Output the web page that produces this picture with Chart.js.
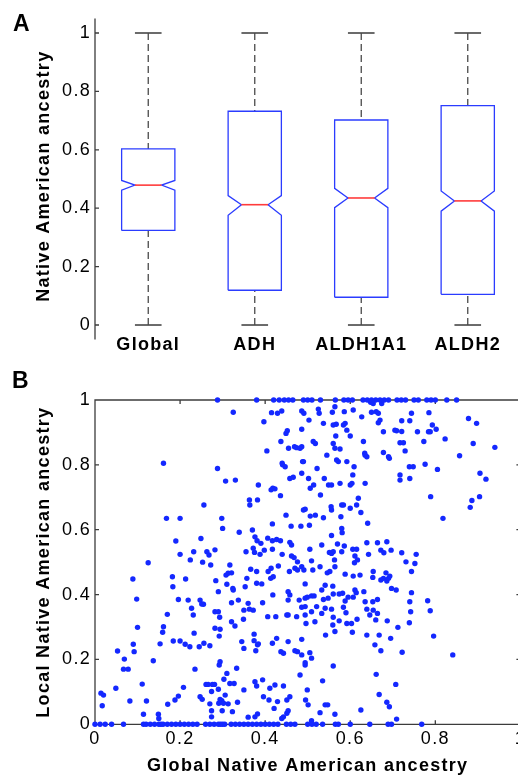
<!DOCTYPE html>
<html>
<head>
<meta charset="utf-8">
<script src="https://cdn.jsdelivr.net/npm/chart.js@4.4.1/dist/chart.umd.min.js"></script>
<style>
  html, body { margin: 0; padding: 0; background: #fff; width: 518px; height: 781px; overflow: hidden; }
  .wrap { position: absolute; left: 0; width: 540px; }
  #wrapA { top: 0; height: 370px; }
  #wrapB { top: 370px; height: 411px; }
  .panel { position: absolute; font: bold 23px "Liberation Sans", Arial, sans-serif; line-height: 23px; color: #000; }
</style>
</head>
<body>
<div id="wrapA" class="wrap"><canvas id="boxChart" width="540" height="370"></canvas></div>
<div id="wrapB" class="wrap"><canvas id="scatterChart" width="540" height="411"></canvas></div>
<div class="panel" style="left:13px;top:12px">A</div>
<div class="panel" style="left:12px;top:369px">B</div>
<script>
// ---------------------------------------------------------------------
// Data — panel A (notched box plots)
// ---------------------------------------------------------------------
const groups = ["Global", "ADH", "ALDH1A1", "ALDH2"];
const q1 = [0.324, 0.119, 0.095, 0.105];
const median = [0.479, 0.412, 0.435, 0.425];
const q3 = [0.603, 0.732, 0.702, 0.751];
const notchLo = [0.462, 0.376, 0.402, 0.390];
const notchHi = [0.495, 0.443, 0.468, 0.459];
const whiskerLo = [0, 0, 0, 0];
const whiskerHi = [1, 1, 1, 1];
const yTicksA = [0, 0.2, 0.4, 0.6, 0.8, 1];

// ---------------------------------------------------------------------
// Data — panel B (global vs local ancestry)
// ---------------------------------------------------------------------
const axisTicksB = [0, 0.2, 0.4, 0.6, 0.8, 1];
// individuals sitting on local ancestry = 1
const topRowX = [0.288, 0.38, 0.42, 0.433, 0.445, 0.455, 0.465, 0.49, 0.5, 0.51, 0.53, 0.565, 0.585,
  0.595, 0.605, 0.63, 0.64, 0.65, 0.66, 0.67, 0.68, 0.69, 0.71, 0.72, 0.73, 0.75, 0.76, 0.78, 0.79,
  0.8, 0.827, 0.85];
// individuals sitting on local ancestry = 0
const bottomRowX = [0, 0.012, 0.024, 0.039, 0.067, 0.114, 0.12, 0.13, 0.14, 0.15, 0.155, 0.16, 0.17,
  0.18, 0.19, 0.2, 0.21, 0.22, 0.23, 0.24, 0.26, 0.27, 0.28, 0.29, 0.295, 0.3, 0.305, 0.32, 0.33,
  0.34, 0.35, 0.36, 0.37, 0.38, 0.39, 0.4, 0.41, 0.42, 0.43, 0.45, 0.46, 0.47, 0.5, 0.51, 0.52,
  0.535, 0.565, 0.572, 0.6, 0.646, 0.689, 0.697, 0.768];
// [global, local] for everyone in between
const upperPts = [
  [0.325,0.962],[0.397,0.933],[0.415,0.961],[0.429,0.959],[0.439,0.966],[0.449,0.897],[0.452,0.905],[0.437,0.872],
  [0.404,0.843],[0.44,0.805],[0.441,0.8],[0.447,0.794],[0.455,0.851],[0.469,0.856],[0.474,0.853],[0.482,0.851],
  [0.486,0.856],[0.486,0.966],[0.491,0.959],[0.486,0.91],[0.503,0.938],[0.513,0.872],[0.518,0.866],[0.525,0.972],
  [0.527,0.959],[0.537,0.928],[0.545,0.83],[0.558,0.962],[0.564,0.979],[0.56,0.923],[0.567,0.925],[0.56,0.866],
  [0.564,0.851],[0.566,0.889],[0.568,0.815],[0.572,0.81],[0.576,0.849],[0.584,0.923],[0.588,0.928],[0.592,0.907],
  [0.586,0.964],[0.6,0.889],[0.592,0.81],[0.607,0.969],[0.609,0.794],[0.627,0.948],[0.631,0.872],[0.634,0.836],
  [0.635,0.83],[0.639,0.825],[0.648,0.993],[0.65,0.962],[0.661,0.964],[0.666,0.959],[0.666,0.93],[0.67,0.938],
  [0.654,0.989],[0.674,0.989],[0.678,0.902],[0.678,0.838],[0.69,0.825],[0.692,0.82],[0.705,0.907],[0.709,0.905],
  [0.717,0.868],[0.725,0.868],[0.721,0.936],[0.721,0.903],[0.729,0.843],[0.717,0.769],[0.717,0.753],[0.739,0.794],
  [0.748,0.794],[0.74,0.936],[0.744,0.959],[0.74,0.758],[0.758,0.902],[0.773,0.872],[0.784,0.902],[0.788,0.902],
  [0.793,0.923],[0.802,0.91],[0.776,0.802],[0.785,0.961],[0.805,0.786],[0.823,0.88],[0.857,0.828],[0.878,0.943],
  [0.897,0.928],[0.889,0.866],[0.94,0.854],[0.905,0.774],[0.919,0.756],[0.882,0.669],[0.886,0.69],[0.904,0.702],
  [0.789,0.702],[0.818,0.635],[0.161,0.805],[0.288,0.789],[0.307,0.75],[0.33,0.753],[0.384,0.738],[0.363,0.692],
  [0.364,0.676],[0.382,0.692],[0.414,0.723],[0.418,0.728],[0.423,0.726],[0.436,0.705],[0.458,0.758],[0.466,0.762],
  [0.486,0.774],[0.488,0.81],[0.49,0.81],[0.502,0.758],[0.506,0.728],[0.514,0.738],[0.522,0.789],[0.53,0.707],
  [0.539,0.758],[0.549,0.738],[0.556,0.738],[0.576,0.743],[0.6,0.738],[0.604,0.743],[0.606,0.769],[0.635,0.743],
  [0.256,0.676],[0.168,0.635],[0.2,0.635],[0.298,0.635],[0.449,0.645],[0.49,0.661],[0.494,0.663],[0.506,0.642],
  [0.518,0.645],[0.537,0.637],[0.555,0.671],[0.556,0.661],[0.58,0.676],[0.584,0.676],[0.578,0.64],[0.6,0.666],
  [0.615,0.676],[0.625,0.653],[0.619,0.697]
];
const middlePts = [
  [0.249,0.573],[0.19,0.565],[0.125,0.498],[0.089,0.448],[0.098,0.386],[0.182,0.455],[0.183,0.424],[0.17,0.339],
  [0.2,0.524],[0.213,0.448],[0.196,0.385],[0.219,0.383],[0.224,0.507],[0.232,0.532],[0.263,0.532],[0.268,0.522],
  [0.227,0.358],[0.231,0.337],[0.247,0.383],[0.251,0.371],[0.255,0.37],[0.253,0.5],[0.272,0.491],[0.282,0.538],
  [0.284,0.443],[0.29,0.409],[0.782,0.381],[0.788,0.35],[0.796,0.272],[0.841,0.214],
  [0.300,0.604],[0.339,0.592],[0.417,0.618],[0.461,0.611],[0.484,0.611],[0.504,0.614],[0.370,0.599],[0.376,0.578],
  [0.381,0.566],[0.390,0.558],[0.406,0.574],[0.417,0.566],[0.427,0.570],[0.436,0.566],[0.458,0.561],[0.462,0.553],
  [0.355,0.532],[0.372,0.543],[0.375,0.530],[0.388,0.524],[0.398,0.537],[0.417,0.540],[0.440,0.524],[0.462,0.519],
  [0.468,0.514],[0.505,0.540],[0.476,0.501],[0.509,0.504],[0.317,0.491],[0.308,0.460],[0.313,0.466],[0.321,0.467],
  [0.366,0.478],[0.380,0.471],[0.407,0.471],[0.414,0.481],[0.431,0.488],[0.457,0.471],[0.470,0.481],[0.476,0.476],
  [0.486,0.486],[0.491,0.476],[0.512,0.476],[0.357,0.450],[0.353,0.424],[0.380,0.435],[0.392,0.433],[0.310,0.432],
  [0.324,0.419],[0.325,0.414],[0.413,0.450],[0.419,0.455],[0.418,0.399],[0.454,0.409],[0.458,0.399],[0.454,0.383],
  [0.494,0.433],[0.494,0.389],[0.499,0.392],[0.509,0.396],[0.515,0.396],[0.480,0.383],[0.486,0.361],[0.494,0.363],
  [0.321,0.375],[0.337,0.383],[0.350,0.352],[0.363,0.355],[0.372,0.352],[0.360,0.373],[0.394,0.375],[0.406,0.332],
  [0.425,0.332],[0.451,0.337],[0.454,0.337],[0.474,0.332],[0.494,0.337],[0.509,0.347],[0.521,0.363],
  [0.641,0.620],[0.556,0.582],[0.580,0.604],[0.581,0.591],[0.533,0.553],[0.570,0.556],[0.586,0.550],[0.551,0.530],
  [0.556,0.527],[0.560,0.532],[0.580,0.532],[0.606,0.540],[0.615,0.540],[0.611,0.519],[0.617,0.507],[0.610,0.498],
  [0.639,0.560],[0.664,0.560],[0.686,0.563],[0.672,0.537],[0.679,0.529],[0.696,0.537],[0.643,0.524],[0.721,0.529],
  [0.731,0.501],[0.755,0.524],[0.752,0.496],[0.529,0.486],[0.563,0.507],[0.564,0.486],[0.546,0.467],[0.552,0.471],
  [0.588,0.463],[0.607,0.457],[0.623,0.460],[0.654,0.471],[0.653,0.453],[0.684,0.467],[0.678,0.450],[0.672,0.445],
  [0.686,0.442],[0.690,0.450],[0.693,0.457],[0.744,0.471],[0.697,0.419],[0.708,0.414],[0.744,0.406],[0.740,0.378],
  [0.533,0.414],[0.541,0.429],[0.559,0.426],[0.560,0.402],[0.574,0.402],[0.582,0.404],[0.611,0.414],[0.614,0.406],
  [0.607,0.392],[0.595,0.392],[0.588,0.380],[0.632,0.409],[0.635,0.378],[0.653,0.378],[0.664,0.385],[0.537,0.385],
  [0.548,0.389],[0.541,0.358],[0.533,0.342],[0.556,0.355],[0.560,0.330],[0.584,0.361],[0.590,0.344],[0.639,0.355],
  [0.654,0.352],[0.646,0.337],[0.664,0.342],[0.742,0.347]
];
const lowerPts = [
  [0.053,0.226],[0.069,0.201],[0.067,0.17],[0.078,0.17],[0.09,0.247],[0.092,0.224],[0.1,0.299],[0.137,0.196],
  [0.153,0.248],[0.159,0.284],[0.161,0.301],[0.184,0.257],[0.2,0.257],[0.212,0.247],[0.223,0.239],[0.245,0.239],
  [0.235,0.17],[0.233,0.281],[0.256,0.25],[0.27,0.242],[0.282,0.296],[0.292,0.272],[0.282,0.347],[0.29,0.347],
  [0.293,0.33],[0.049,0.111],[0.111,0.124],[0.208,0.114],[0.261,0.123],[0.266,0.123],[0.276,0.123],[0.281,0.123],
  [0.29,0.108],[0.292,0.183],[0.625,0.044],[0.686,0.068],[0.692,0.054],[0.709,0.016],[0.564,0.031],
  [0.329,0.303],[0.294,0.293],[0.294,0.193],[0.374,0.278],[0.374,0.258],[0.382,0.245],[0.384,0.248],[0.350,0.234],
  [0.345,0.255],[0.378,0.227],[0.417,0.250],[0.427,0.265],[0.437,0.224],[0.443,0.219],[0.454,0.255],[0.470,0.227],
  [0.476,0.224],[0.486,0.262],[0.486,0.214],[0.494,0.183],[0.505,0.221],[0.509,0.204],[0.494,0.190],[0.333,0.173],
  [0.310,0.157],[0.303,0.139],[0.317,0.126],[0.327,0.126],[0.350,0.106],[0.376,0.131],[0.380,0.118],[0.394,0.137],
  [0.411,0.111],[0.423,0.121],[0.396,0.085],[0.443,0.118],[0.458,0.085],[0.482,0.152],[0.499,0.106],[0.496,0.311],
  [0.517,0.316],[0.321,0.316],[0.349,0.324],
  [0.559,0.306],[0.564,0.286],[0.574,0.319],[0.592,0.311],[0.603,0.311],[0.616,0.324],[0.605,0.284],[0.660,0.322],
  [0.687,0.319],[0.712,0.299],[0.739,0.313],[0.542,0.275],[0.639,0.275],[0.668,0.275],[0.695,0.265],[0.658,0.245],
  [0.672,0.227],[0.722,0.222],[0.560,0.180],[0.535,0.134],[0.661,0.154],[0.707,0.123],[0.668,0.092],
  [0.014,0.096],[0.020,0.090],[0.017,0.057],[0.082,0.072],[0.121,0.072],[0.114,0.031],[0.149,0.031],[0.150,0.018],
  [0.171,0.062],[0.188,0.075],[0.196,0.087],[0.247,0.085],[0.252,0.077],[0.274,0.101],[0.270,0.063],[0.274,0.042],
  [0.274,0.023],[0.294,0.077],[0.298,0.073],[0.291,0.065],[0.306,0.090],[0.302,0.065],[0.299,0.042],[0.313,0.063],
  [0.323,0.039],[0.335,0.068],[0.360,0.022],[0.376,0.023],[0.382,0.032],[0.409,0.075],[0.421,0.049],[0.429,0.070],
  [0.451,0.075],[0.451,0.034],[0.439,0.018],[0.443,0.023],[0.454,0.042],[0.495,0.075],[0.501,0.060],[0.541,0.060],
  [0.529,0.036],[0.547,0.060],[0.509,0.011]
];

// ---------------------------------------------------------------------
// Shared look
// ---------------------------------------------------------------------
const FONT = '"Liberation Sans", Arial, Helvetica, sans-serif';
const AXIS_COLOR = "#3c3c3c";
const fmt = (v) => (Math.abs(v) < 1e-9 ? "0" : Math.abs(v - 1) < 1e-9 ? "1" : v.toFixed(1));

// MATLAB-style text is a bit looser than the canvas default
const spacingPlugin = {
  id: "spacing",
  beforeUpdate(chart) { chart.ctx.letterSpacing = "1.3px"; },
  beforeDraw(chart) { chart.ctx.letterSpacing = "1.3px"; },
};

// axis line(s) with inward tick marks, optional full frame
const framePlugin = {
  id: "frame",
  beforeDatasetsDraw(chart, args, opts) {
    const { ctx, chartArea: a, scales: { x, y } } = chart;
    const len = opts.len || 4;
    ctx.save();
    ctx.strokeStyle = opts.color || AXIS_COLOR;
    ctx.lineWidth = opts.width || 1.3;
    ctx.beginPath();
    if (opts.box) {
      ctx.rect(a.left, a.top, a.right - a.left, a.bottom - a.top);
    } else if (opts.leftLine) {
      ctx.moveTo(a.left, y.getPixelForValue(opts.leftLine[0]));
      ctx.lineTo(a.left, y.getPixelForValue(opts.leftLine[1]));
    }
    y.ticks.forEach((t) => {
      const py = y.getPixelForValue(t.value);
      ctx.moveTo(a.left, py);
      ctx.lineTo(a.left + len, py);
      if (opts.box) {
        ctx.moveTo(a.right, py);
        ctx.lineTo(a.right - len, py);
      }
    });
    if (opts.box) {
      x.ticks.forEach((t) => {
        const px = x.getPixelForValue(t.value);
        ctx.moveTo(px, a.bottom);
        ctx.lineTo(px, a.bottom - len);
        ctx.moveTo(px, a.top);
        ctx.lineTo(px, a.top + len);
      });
    }
    ctx.stroke();
    ctx.restore();
  },
};

// ---------------------------------------------------------------------
// Panel A — notched boxes built as line datasets
// ---------------------------------------------------------------------
const HALF = 0.25;    // half box width (x units)
const INSET = 0.125;  // notch depth
const CAP = 0.125;    // whisker cap half width

const boxSets = [];
groups.forEach((g, i) => {
  const c = i + 1;
  const L = c - HALF, R = c + HALF;
  boxSets.push({
    label: g + " median", order: 0, borderColor: "#ff3b3b", borderWidth: 1.6,
    data: [{ x: L + INSET, y: median[i] }, { x: R - INSET, y: median[i] }],
  });
  boxSets.push({
    label: g + " box", order: 1, borderColor: "#2b3cff", borderWidth: 1.3,
    data: [
      { x: L, y: q1[i] }, { x: L, y: notchLo[i] }, { x: L + INSET, y: median[i] },
      { x: L, y: notchHi[i] }, { x: L, y: q3[i] }, { x: R, y: q3[i] },
      { x: R, y: notchHi[i] }, { x: R - INSET, y: median[i] }, { x: R, y: notchLo[i] },
      { x: R, y: q1[i] }, { x: L, y: q1[i] },
    ],
  });
  boxSets.push({
    label: g + " upper whisker", order: 2, borderColor: "#4a4a4a", borderWidth: 1.3, borderDash: [7, 4],
    data: [{ x: c, y: whiskerHi[i] }, { x: c, y: q3[i] }],
  });
  boxSets.push({
    label: g + " lower whisker", order: 2, borderColor: "#4a4a4a", borderWidth: 1.3, borderDash: [7, 4],
    data: [{ x: c, y: whiskerLo[i] }, { x: c, y: q1[i] }],
  });
  boxSets.push({
    label: g + " upper cap", order: 2, borderColor: "#3a3a3a", borderWidth: 1.5,
    data: [{ x: c - CAP, y: whiskerHi[i] }, { x: c + CAP, y: whiskerHi[i] }],
  });
  boxSets.push({
    label: g + " lower cap", order: 2, borderColor: "#3a3a3a", borderWidth: 1.5,
    data: [{ x: c - CAP, y: whiskerLo[i] }, { x: c + CAP, y: whiskerLo[i] }],
  });
});
boxSets.forEach((ds) => Object.assign(ds, { pointRadius: 0, fill: false, tension: 0, clip: false }));

new Chart(document.getElementById("boxChart"), {
  type: "line",
  data: { datasets: boxSets },
  plugins: [spacingPlugin, framePlugin],
  options: {
    responsive: false,
    devicePixelRatio: 1,
    animation: false,
    layout: { padding: { left: 28, right: 19, top: 18.4, bottom: 0 } },
    plugins: {
      legend: { display: false },
      tooltip: { enabled: false },
      frame: { box: false, len: 4, leftLine: [-0.05, 1.05] },
    },
    scales: {
      x: {
        type: "linear",
        min: 0.5,
        max: 4.5,
        afterBuildTicks: (s) => { s.ticks = groups.map((g, i) => ({ value: i + 1 })); },
        afterFit: (s) => { s.height = 36; },
        ticks: {
          callback: (v) => groups[Math.round(v) - 1],
          color: "#000",
          font: { family: FONT, size: 18, weight: "bold" },
          padding: 0,
          maxRotation: 0,
          autoSkip: false,
        },
        grid: { display: false, drawTicks: false },
        border: { display: false },
      },
      y: {
        min: -0.0308,
        max: 1.05,
        afterBuildTicks: (s) => { s.ticks = yTicksA.map((v) => ({ value: v })); },
        afterFit: (s) => { s.width = 67; },
        ticks: { callback: fmt, color: "#000", font: { family: FONT, size: 18 }, padding: 4 },
        grid: { display: false, drawTicks: false },
        border: { display: false },
        title: {
          display: true,
          text: "Native American ancestry",
          color: "#000",
          font: { family: FONT, size: 18, weight: "bold" },
          padding: { top: 5, bottom: 0 },
        },
      },
    },
  },
});

// ---------------------------------------------------------------------
// Panel B — scatter
// ---------------------------------------------------------------------
const scatterData = upperPts.concat(middlePts, lowerPts).map(([x, y]) => ({ x, y }))
  .concat(topRowX.map((x) => ({ x, y: 1 })))
  .concat(bottomRowX.map((x) => ({ x, y: 0 })));

new Chart(document.getElementById("scatterChart"), {
  type: "scatter",
  data: {
    datasets: [{
      label: "individuals",
      data: scatterData,
      pointStyle: "circle",
      pointRadius: 2.7,
      pointBorderWidth: 0,
      backgroundColor: "#1428ff",
      clip: false,
    }],
  },
  plugins: [spacingPlugin, framePlugin],
  options: {
    responsive: false,
    devicePixelRatio: 1,
    animation: false,
    layout: { padding: { left: 28, right: 19.6, top: 30, bottom: 0 } },
    plugins: {
      legend: { display: false },
      tooltip: { enabled: false },
      frame: { box: true, len: 4 },
    },
    scales: {
      x: {
        type: "linear",
        min: 0,
        max: 1,
        afterBuildTicks: (s) => { s.ticks = axisTicksB.map((v) => ({ value: v })); },
        afterFit: (s) => { s.height = 56.7; },
        ticks: { callback: fmt, color: "#000", font: { family: FONT, size: 18 }, padding: 4, maxRotation: 0, autoSkip: false },
        grid: { display: false, drawTicks: false },
        border: { display: false },
        title: {
          display: true,
          text: "Global Native American ancestry",
          color: "#000",
          font: { family: FONT, size: 18, weight: "bold" },
          padding: { top: 0, bottom: 4 },
        },
      },
      y: {
        min: 0,
        max: 1,
        afterBuildTicks: (s) => { s.ticks = axisTicksB.map((v) => ({ value: v })); },
        afterFit: (s) => { s.width = 67; },
        ticks: { callback: fmt, color: "#000", font: { family: FONT, size: 18 }, padding: 4 },
        grid: { display: false, drawTicks: false },
        border: { display: false },
        title: {
          display: true,
          text: "Local Native American ancestry",
          color: "#000",
          font: { family: FONT, size: 18, weight: "bold" },
          padding: { top: 5, bottom: 0 },
        },
      },
    },
  },
});
</script>
</body>
</html>
